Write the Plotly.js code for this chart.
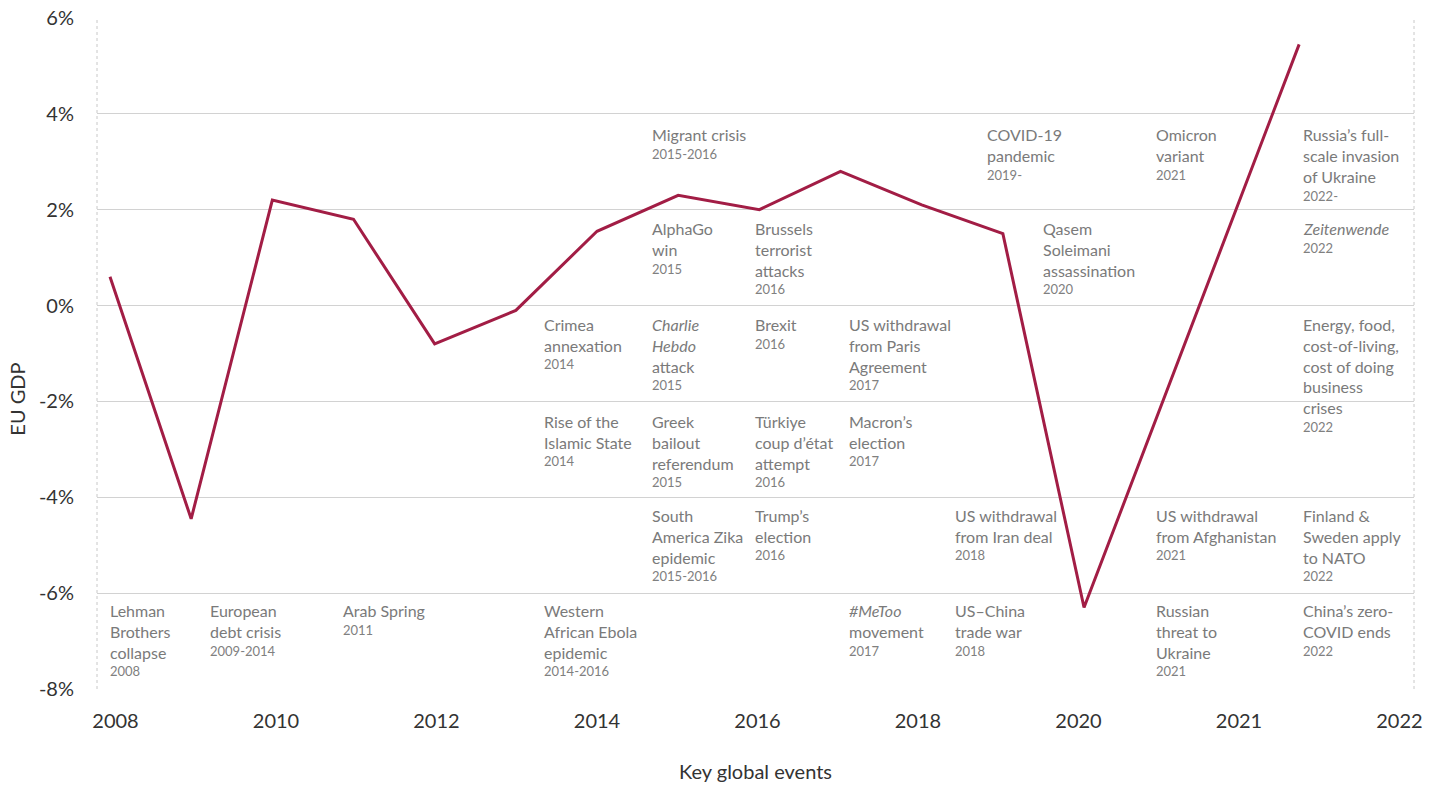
<!DOCTYPE html>
<html>
<head>
<meta charset="utf-8">
<script src="https://cdn.plot.ly/plotly-3.0.1.min.js"></script>
<style>
html,body{margin:0;padding:0;background:#fff;}
#chart{width:1440px;height:785px;}
</style>
</head>
<body>
<div id="chart"></div>
<script>
// ---- data ----
const years = ['2008','2009','2010','2011','2012','2013','2014','2015','2016','2017','2018','2019','2020','2021'];
const yearPos = [2008, 2009, 2010, 2011, 2012, 2013, 2014, 2015, 2016, 2017, 2018, 2019, 2020, 2022.65];
const gdpGrowth = [0.6, -4.45, 2.2, 1.8, -0.8, -0.1, 1.55, 2.3, 2.0, 2.8, 2.1, 1.5, -6.3, 5.45];

const xTickText = ['2008', '2010', '2012', '2014', '2016', '2018', '2020', '2021', '2022'];
const yTickVals = [-8, -6, -4, -2, 0, 2, 4, 6];
const yTickText = ['-8%', '-6%', '-4%', '-2%', '0%', '2%', '4%', '6%'];

const eventTitles = [
  'Lehman<br>Brothers<br>collapse',
  'European<br>debt crisis',
  'Arab Spring',
  'Western<br>African Ebola<br>epidemic',
  'Crimea<br>annexation',
  'Rise of the<br>Islamic State',
  'Migrant crisis',
  'AlphaGo<br>win',
  '<i>Charlie</i><br><i>Hebdo</i><br>attack',
  'Greek<br>bailout<br>referendum',
  'South<br>America Zika<br>epidemic',
  'Brussels<br>terrorist<br>attacks',
  'Brexit',
  'Türkiye<br>coup d’état<br>attempt',
  'Trump’s<br>election',
  'US withdrawal<br>from Paris<br>Agreement',
  'Macron’s<br>election',
  '<i>#MeToo</i><br>movement',
  'US withdrawal<br>from Iran deal',
  'US–China<br>trade war',
  'COVID-19<br>pandemic',
  'Qasem<br>Soleimani<br>assassination',
  'Omicron<br>variant',
  'US withdrawal<br>from Afghanistan',
  'Russian<br>threat to<br>Ukraine',
  'Russia’s full-<br>scale invasion<br>of Ukraine',
  '<i>Zeitenwende</i>',
  'Energy, food,<br>cost-of-living,<br>cost of doing<br>business<br>crises',
  'Finland &amp;<br>Sweden apply<br>to NATO',
  'China’s zero-<br>COVID ends'
];
const eventDates = [
  '2008', '2009-2014', '2011', '2014-2016', '2014', '2014', '2015-2016', '2015', '2015', '2015',
  '2015-2016', '2016', '2016', '2016', '2016', '2017', '2017', '2017', '2018', '2018',
  '2019-', '2020', '2021', '2021', '2021', '2022-', '2022', '2022', '2022', '2022'
];
// grid cell of each event (column index, row index)
const eventColumn = [0, 1, 2, 3, 3, 3, 4, 4, 4, 4, 4, 5, 5, 5, 5, 6, 6, 6, 7, 7, 8, 9, 10, 10, 10, 11, 11, 11, 11, 11];
const eventRow    = [5, 5, 5, 5, 2, 3, 0, 1, 2, 3, 4, 1, 2, 3, 4, 2, 3, 5, 4, 5, 0, 1, 0, 4, 5, 0, 1, 2, 4, 5];

// ---- layout placement (not data) ----
const xTickPos = [2008.068, 2010.045, 2012.022, 2014.0, 2015.977, 2017.954, 2019.932, 2021.909, 2023.886];
const columnX = [0.00835, 0.0843, 0.1853, 0.3379, 0.4199, 0.4981, 0.5695, 0.6500, 0.6743, 0.7168, 0.8026, 0.9142];
const rowY = [3.55, 1.6, -0.4, -2.42, -4.38, -6.37];
const LINE_H = 20.8;

const FONT = 'Lato, "PT Sans", "Open Sans", sans-serif';
const annotations = [];
eventTitles.forEach((t, i) => {
  const n = t.split('<br>').length;
  annotations.push({
    xref: 'paper', yref: 'y',
    x: columnX[eventColumn[i]], y: rowY[eventRow[i]],
    xanchor: 'left', yanchor: 'top', yshift: 12,
    align: 'left', showarrow: false, text: t,
    font: {family: FONT, size: 16, color: '#7a7a7a'}
  });
  annotations.push({
    xref: 'paper', yref: 'y',
    x: columnX[eventColumn[i]], y: rowY[eventRow[i]],
    xanchor: 'left', yanchor: 'top', yshift: -(LINE_H * (n - 1) + 8.9),
    align: 'left', showarrow: false, text: eventDates[i],
    font: {family: FONT, size: 13, color: '#808080'}
  });
});
// y axis title, placed like the reference
annotations.push({
  xref: 'paper', yref: 'paper', x: 0, xshift: -79.5, y: 0.432,
  xanchor: 'center', yanchor: 'middle', textangle: -90, showarrow: false,
  text: 'EU GDP', font: {family: FONT, size: 20, color: '#333333'}
});

const trace = {
  type: 'scatter', mode: 'lines',
  x: yearPos, y: gdpGrowth,
  text: years,
  line: {color: '#a21d45', width: 3},
  hoverinfo: 'text+y'
};

const layout = {
  width: 1440, height: 785,
  margin: {l: 97, r: 26, t: 18, b: 96},
  paper_bgcolor: '#ffffff', plot_bgcolor: '#ffffff',
  showlegend: false,
  font: {family: FONT, color: '#333333'},
  xaxis: {
    range: [2007.84, 2024.065],
    tickvals: xTickPos, ticktext: xTickText,
    showgrid: false, zeroline: false, showline: false,
    ticks: 'outside', ticklen: 14, tickcolor: 'rgba(0,0,0,0)',
    tickfont: {family: FONT, size: 20, color: '#333333'},
    title: {text: 'Key global events', font: {family: FONT, size: 20, color: '#333333'}, standoff: 33}
  },
  yaxis: {
    range: [-8, 6],
    tickvals: yTickVals, ticktext: yTickText,
    showgrid: true, gridcolor: '#d2d2d2', gridwidth: 1,
    zeroline: false, showline: false,
    ticks: 'outside', ticklen: 18, tickcolor: 'rgba(0,0,0,0)',
    tickfont: {family: FONT, size: 20, color: '#333333'}
  },
  shapes: [
    {type: 'line', xref: 'paper', yref: 'paper', x0: 0, x1: 0, y0: 0, y1: 1,
     line: {color: '#c8c8c8', width: 1, dash: 'dot'}},
    {type: 'line', xref: 'paper', yref: 'paper', x0: 1, x1: 1, y0: 0, y1: 1,
     line: {color: '#c8c8c8', width: 1, dash: 'dot'}},
    {type: 'rect', xref: 'paper', yref: 'y', layer: 'between',
     x0: 0.9104, x1: 0.967, y0: -2.2, y1: -1.8,
     fillcolor: '#ffffff', line: {width: 0}}
  ],
  annotations: annotations
};

Plotly.newPlot('chart', [trace], layout, {displayModeBar: false, staticPlot: true});
</script>
</body>
</html>
